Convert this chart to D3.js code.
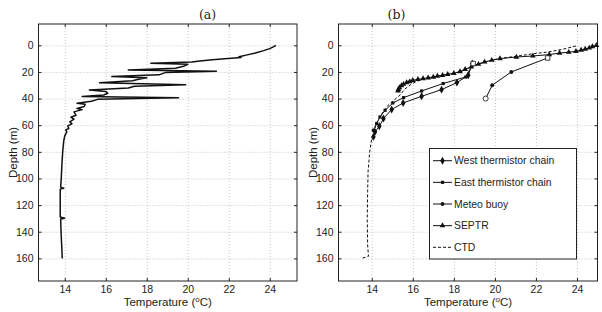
<!DOCTYPE html>
<html lang="en">
<head>
<meta charset="UTF-8" />
<title>Temperature profiles</title>
<script src="https://d3js.org/d3.v7.min.js"></script>
<style>
    body { margin: 0; background: #fff; }
    svg { font-family: "Liberation Sans", Arial, sans-serif; }
    .grid line { stroke: #c4c4c4; stroke-dasharray: 1,2; }
    .grid path { display: none; }
    .tick text { fill: #222; }
</style>
</head>
<body>
<svg id="chart"></svg>
<script>
    // ---- data ----
    const xTicks = [14, 16, 18, 20, 22, 24];
    const yTicks = [0, 20, 40, 60, 80, 100, 120, 140, 160];

    // panel (a): CTD cast, [temperature, depth]
    const ctdA = [
        [24.3, 0], [24.2, 1], [24.0, 2.5], [23.7, 4], [23.3, 5.8], [22.9, 7.2], [22.5, 8.6],
        [22.6, 9.2], [22.3, 9.5], [21.8, 10.1], [21.2, 10.8], [20.6, 11.7], [20.2, 12.6],
        [18.2, 13.5], [20.0, 14.3], [19.8, 15.8], [19.4, 17.3], [17.1, 18.5], [21.4, 19.5],
        [18.9, 20.5], [18.6, 22.2], [16.3, 23.5], [18.0, 24.4], [17.6, 25.5], [17.3, 26.6],
        [15.7, 28.2], [19.9, 29.6], [17.4, 30.8], [17.1, 32], [15.2, 33.5], [16.0, 34.6],
        [16.1, 36], [15.9, 37.3], [14.85, 38.5], [19.55, 39.3], [15.6, 40.6], [15.3, 42],
        [14.6, 43.5], [15.0, 44.3], [14.95, 46], [14.6, 47.5], [14.85, 48.3], [14.45, 50],
        [14.55, 52.5], [14.3, 54], [14.45, 55.5], [14.25, 57.5], [14.35, 59], [14.15, 60.5],
        [14.2, 62.5], [14.05, 63.5], [14.1, 65], [14.0, 68], [13.95, 72], [13.9, 80],
        [13.86, 90], [13.83, 100], [13.8, 106.5], [13.95, 107.3], [13.78, 108], [13.78, 120],
        [13.78, 129], [14.0, 129.8], [13.8, 130.5], [13.82, 140], [13.85, 150], [13.88, 160]
    ];

    // panel (b)
    const westChain = [
        [18.9, 13.6], [18.7, 22.5], [18.15, 28], [17.4, 33.3], [16.43, 38.3], [15.53, 43.3],
        [14.97, 48.2], [14.57, 55], [14.37, 60.8], [14.16, 65], [14.08, 68.8]
    ];
    const eastChain = [
        [18.94, 13.7], [18.58, 23.8], [17.48, 28.7], [16.43, 34.3], [15.55, 39.3],
        [15.03, 43.3], [14.65, 48.8], [14.4, 53.8], [14.24, 58.7], [14.08, 63.8]
    ];
    const meteoBuoy = [[22.57, 9.5], [20.8, 20], [19.87, 30], [19.55, 40]];
    const septr = [
        [24.95, 0], [24.75, 1], [24.6, 2], [24.4, 2.8], [24.2, 3.6], [23.95, 4.5], [23.6, 5.2],
        [23.15, 5.8], [22.65, 7], [21.85, 8], [21.05, 8.8], [20.25, 10], [19.85, 11.2],
        [19.5, 12.5], [19.2, 14.2], [18.85, 16.2], [18.55, 18], [18.3, 19.7], [18.0, 21],
        [17.7, 21.8], [17.45, 22.5], [17.2, 23.1], [17.0, 23.8], [16.75, 24.4], [16.5, 25],
        [16.25, 25.6], [16.0, 26.3], [15.85, 27.2], [15.7, 28], [15.55, 29.2], [15.45, 30.3],
        [15.35, 31.8], [15.3, 33], [15.28, 34.3]
    ];
    const ctdB = [
        [23.95, 0.5], [23.3, 3], [22.6, 5], [21.8, 6.5], [21.0, 8.3], [20.2, 10], [19.5, 12.5],
        [19.0, 15], [18.6, 18], [18.3, 20], [17.8, 21.5], [17.2, 23], [16.6, 25], [16.2, 27],
        [15.9, 29.5], [15.6, 33], [15.4, 37], [15.1, 41], [14.8, 45], [14.55, 50], [14.35, 55],
        [14.2, 60], [14.1, 65], [14.0, 70], [13.9, 80], [13.82, 95], [13.8, 110], [13.78, 130],
        [13.8, 150], [13.84, 158.5], [13.5, 160]
    ];

    const seriesB = [
        { name: "West thermistor chain", data: westChain, marker: "diamond" },
        { name: "East thermistor chain", data: eastChain, marker: "square" },
        { name: "Meteo buoy", data: meteoBuoy, marker: "circle" },
        { name: "SEPTR", data: septr, marker: "triangle" },
        { name: "CTD", data: ctdB, marker: null, dashed: true }
    ];

    // ---- layout ----
    const width = 602, height = 312;
    const plotTop = 24, plotBottom = 281;
    const svg = d3.select("#chart").attr("width", width).attr("height", height);

    const y = d3.scaleLinear().domain([-16, 177]).range([plotTop, plotBottom]);

    const symbols = {
        diamond: d3.symbol(d3.symbolDiamond, 18),
        square: d3.symbol(d3.symbolSquare, 10),
        circle: d3.symbol(d3.symbolCircle, 12),
        triangle: d3.symbol(d3.symbolTriangle, 14)
    };

    function panel(x0, x1, tDomain, title, titleX) {
        const x = d3.scaleLinear().domain(tDomain).range([x0, x1]);
        const g = svg.append("g");

        // dotted grid
        g.append("g").attr("class", "grid")
            .attr("transform", `translate(0,${plotBottom})`)
            .call(d3.axisBottom(x).tickValues(xTicks).tickSize(-(plotBottom - plotTop)).tickFormat(""));
        g.append("g").attr("class", "grid")
            .attr("transform", `translate(${x0},0)`)
            .call(d3.axisLeft(y).tickValues(yTicks).tickSize(-(x1 - x0)).tickFormat(""));

        // axes with inward ticks
        const ax = [
            g.append("g").attr("transform", `translate(0,${plotBottom})`)
                .call(d3.axisBottom(x).tickValues(xTicks).tickSize(-3).tickPadding(5)),
            g.append("g").attr("transform", `translate(0,${plotTop})`)
                .call(d3.axisTop(x).tickValues(xTicks).tickSize(-3).tickFormat("")),
            g.append("g").attr("transform", `translate(${x0},0)`)
                .call(d3.axisLeft(y).tickValues(yTicks).tickSize(-3).tickPadding(5)),
            g.append("g").attr("transform", `translate(${x1},0)`)
                .call(d3.axisRight(y).tickValues(yTicks).tickSize(-3).tickFormat(""))
        ];
        ax.forEach(a => {
            a.select(".domain").remove();
            a.selectAll("line").attr("stroke", "#222");
            a.selectAll("text").attr("font-size", 10.5);
        });

        g.append("rect")
            .attr("x", x0).attr("y", plotTop)
            .attr("width", x1 - x0).attr("height", plotBottom - plotTop)
            .attr("fill", "none").attr("stroke", "#222").attr("stroke-width", 1);

        // labels
        const xl = g.append("text")
            .attr("x", (x0 + x1) / 2).attr("y", 306)
            .attr("text-anchor", "middle").attr("font-size", 11.5).attr("fill", "#222");
        xl.append("tspan").text("Temperature (");
        xl.append("tspan").attr("dy", -4).attr("font-size", 8).text("o");
        xl.append("tspan").attr("dy", 4).text("C)");

        g.append("text")
            .attr("transform", `translate(${x0 - 26},${(plotTop + plotBottom) / 2}) rotate(-90)`)
            .attr("text-anchor", "middle").attr("dy", "0.35em")
            .attr("font-size", 11.5).attr("fill", "#222")
            .text("Depth (m)");

        g.append("text")
            .attr("x", titleX).attr("y", 19)
            .attr("text-anchor", "middle")
            .attr("font-family", "'DejaVu Serif', 'Liberation Serif', serif")
            .attr("font-size", 12.5).attr("fill", "#222")
            .text(title);

        return { g, x };
    }

    // ---- panel (a) ----
    const pa = panel(38.5, 297, [12.72, 25.33], "(a)", 207.5);
    const lineA = d3.line().x(d => pa.x(d[0])).y(d => y(d[1]));
    pa.g.append("path")
        .datum(ctdA)
        .attr("d", lineA)
        .attr("fill", "none").attr("stroke", "#111").attr("stroke-width", 1.5)
        .attr("stroke-linejoin", "round");

    // ---- panel (b) ----
    const pb = panel(338.5, 597.5, [12.38, 25.0], "(b)", 396.5);
    const lineB = d3.line().x(d => pb.x(d[0])).y(d => y(d[1]));
    const marks = pb.g.append("g");

    seriesB.slice().reverse().forEach(s => {
        marks.append("path")
            .datum(s.data)
            .attr("d", lineB)
            .attr("fill", "none").attr("stroke", "#111").attr("stroke-width", 1)
            .attr("stroke-dasharray", s.dashed ? "3,2" : null);
        if (s.marker) {
            marks.selectAll(null)
                .data(s.data)
                .join("path")
                .attr("transform", d => `translate(${pb.x(d[0])},${y(d[1])})`)
                .attr("d", symbols[s.marker])
                .attr("fill", "#111");
        }
    });

    // open end markers
    const openMarks = [
        { p: eastChain[0], m: "square" },
        { p: meteoBuoy[0], m: "square" },
        { p: meteoBuoy[meteoBuoy.length - 1], m: "circle" }
    ];
    marks.selectAll(null)
        .data(openMarks)
        .join("path")
        .attr("transform", d => `translate(${pb.x(d.p[0])},${y(d.p[1])})`)
        .attr("d", d => d3.symbol(d.m === "square" ? d3.symbolSquare : d3.symbolCircle, 20)())
        .attr("fill", "#fff").attr("stroke", "#111").attr("stroke-width", 0.8);

    // legend
    const lg = pb.g.append("g");
    lg.append("rect")
        .attr("x", 429.5).attr("y", 148.5).attr("width", 147).attr("height", 110.5)
        .attr("fill", "#fff").attr("stroke", "#222");
    const row = lg.selectAll("g.row")
        .data(seriesB)
        .join("g")
        .attr("class", "row")
        .attr("transform", (d, i) => `translate(433,${160.7 + i * 21.65})`);
    row.append("line")
        .attr("x1", 0).attr("x2", 19)
        .attr("stroke", "#111").attr("stroke-width", 1)
        .attr("stroke-dasharray", d => d.dashed ? "3,2" : null);
    row.filter(d => d.marker).append("path")
        .attr("transform", "translate(9.5,0)")
        .attr("d", d => symbols[d.marker]())
        .attr("fill", "#111");
    row.append("text")
        .attr("x", 21).attr("dy", "0.35em")
        .attr("font-size", 10.4).attr("fill", "#222")
        .text(d => d.name);
</script>
</body>
</html>
